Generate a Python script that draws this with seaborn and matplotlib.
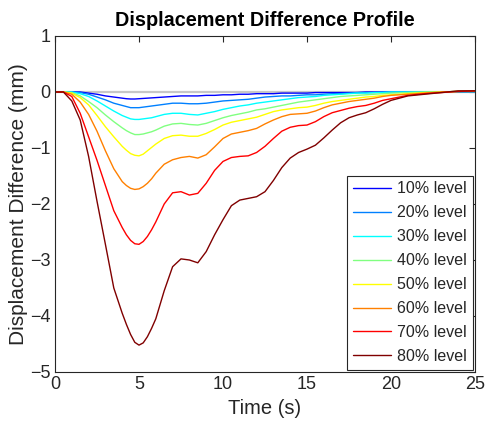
import numpy as np
import pandas as pd
import matplotlib
matplotlib.use("Agg")
import matplotlib.pyplot as plt
import seaborn as sns

# ---------------- data ----------------
time_s = [0, 0.5, 1, 1.5, 2, 2.5, 3, 3.5, 4, 4.25, 4.5, 4.75, 5, 5.25, 5.5, 5.75,
          6, 6.5, 7, 7.5, 8, 8.5,
          9, 9.5, 10, 10.5, 11, 11.5, 12, 12.5, 13, 13.5, 14, 14.5, 15, 15.5,
          16, 16.5, 17, 17.5, 18, 18.5, 19, 19.5, 20, 21, 22, 23, 24, 25]

level_10 = [0, 0, 0, 0, -0.02, -0.04, -0.07, -0.09, -0.11, -0.12, -0.125, -0.125,
            -0.12, -0.115, -0.11, -0.105,
            -0.1, -0.09, -0.08, -0.07, -0.07, -0.07, -0.06, -0.06, -0.05, -0.05,
            -0.04, -0.04, -0.03, -0.03, -0.03, -0.02, -0.02, -0.02, -0.02, -0.01,
            -0.01, -0.01, -0.01, -0.01, -0.01, 0, 0, 0, 0, 0, 0, 0, 0, 0]
level_20 = [0, 0, 0, -0.01, -0.04, -0.09, -0.14, -0.2, -0.24, -0.26, -0.28, -0.28,
            -0.28, -0.27, -0.26, -0.25,
            -0.24, -0.22, -0.2, -0.2, -0.21, -0.21, -0.2, -0.18, -0.16, -0.15,
            -0.14, -0.13, -0.11, -0.09, -0.08, -0.07, -0.07, -0.06, -0.05, -0.05,
            -0.04, -0.03, -0.03, -0.02, -0.01, -0.01, -0.01, 0, 0, 0, 0, 0, 0, 0]
level_30 = [0, 0, 0, -0.03, -0.08, -0.16, -0.25, -0.34, -0.42, -0.45, -0.48, -0.49,
            -0.49, -0.48, -0.47, -0.46,
            -0.44, -0.4, -0.38, -0.38, -0.4, -0.41, -0.38, -0.35, -0.31, -0.28,
            -0.25, -0.23, -0.2, -0.18, -0.16, -0.14, -0.12, -0.1, -0.09, -0.08,
            -0.06, -0.05, -0.04, -0.03, -0.02, -0.02, -0.01, -0.01, 0, 0, 0, 0,
            0.01, 0.01]
level_40 = [0, 0, -0.01, -0.07, -0.17, -0.28, -0.41, -0.53, -0.64, -0.69, -0.73,
            -0.76, -0.76, -0.75, -0.73, -0.71,
            -0.68, -0.61, -0.57, -0.56, -0.58, -0.59, -0.56, -0.51, -0.46,
            -0.42, -0.39, -0.36, -0.32, -0.3, -0.27, -0.24, -0.21, -0.18, -0.16,
            -0.14, -0.12, -0.1, -0.08, -0.07, -0.06, -0.05, -0.04, -0.03, -0.02,
            -0.01, 0, 0, 0.01, 0.01]
level_50 = [0, 0, -0.02, -0.1, -0.23, -0.42, -0.62, -0.8, -0.97, -1.04, -1.1,
            -1.13, -1.14, -1.11, -1.05, -0.99,
            -0.93, -0.83, -0.78, -0.77, -0.79, -0.79, -0.74, -0.67, -0.59,
            -0.54, -0.51, -0.48, -0.45, -0.4, -0.35, -0.32, -0.3, -0.28, -0.27,
            -0.24, -0.2, -0.17, -0.15, -0.13, -0.11, -0.09, -0.08, -0.06, -0.05,
            -0.03, -0.01, 0, 0.01, 0.01]
level_60 = [0, 0, -0.04, -0.18, -0.4, -0.7, -1.05, -1.37, -1.6, -1.67, -1.72,
            -1.74, -1.73, -1.69, -1.63, -1.55,
            -1.45, -1.29, -1.21, -1.17, -1.15, -1.18, -1.12, -0.98, -0.83,
            -0.75, -0.72, -0.69, -0.65, -0.57, -0.5, -0.44, -0.4, -0.39, -0.38,
            -0.34, -0.28, -0.23, -0.2, -0.17, -0.15, -0.13, -0.11, -0.08, -0.06,
            -0.04, -0.02, 0, 0.01, 0.02]
level_70 = [0, 0, -0.08, -0.38, -0.8, -1.22, -1.67, -2.12, -2.42, -2.55, -2.65,
            -2.71, -2.72, -2.67, -2.58, -2.46,
            -2.32, -2.0, -1.8, -1.78, -1.84, -1.81, -1.63, -1.4, -1.24,
            -1.17, -1.15, -1.14, -1.08, -0.97, -0.83, -0.7, -0.63, -0.6, -0.59,
            -0.53, -0.44, -0.37, -0.33, -0.29, -0.26, -0.24, -0.2, -0.15, -0.12,
            -0.06, -0.03, -0.01, 0.01, 0.02]
level_80 = [0, 0, -0.16, -0.5, -1.15, -1.95, -2.72, -3.5, -3.95, -4.15, -4.33,
            -4.47, -4.52, -4.48, -4.37, -4.22,
            -4.05, -3.55, -3.12, -2.98, -3.0, -3.05, -2.85, -2.55, -2.28,
            -2.03, -1.93, -1.9, -1.87, -1.78, -1.58, -1.35, -1.18, -1.08, -1.02,
            -0.95, -0.82, -0.68, -0.55, -0.46, -0.41, -0.37, -0.3, -0.22, -0.15,
            -0.07, -0.04, -0.01, 0.02, 0.02]
baseline = [0] * len(time_s)

level_labels = ["10% level", "20% level", "30% level", "40% level",
                "50% level", "60% level", "70% level", "80% level"]
level_values = [level_10, level_20, level_30, level_40,
                level_50, level_60, level_70, level_80]
level_colors = [(0, 0, 1), (0, 0.5, 1), (0, 1, 1), (0.5, 1, 0.5),
                (1, 1, 0), (1, 0.5, 0), (1, 0, 0), (0.5, 0, 0)]

x_ticks = [0, 5, 10, 15, 20, 25]
y_ticks = [1, 0, -1, -2, -3, -4, -5]

for v in level_values:
    assert len(v) == len(time_s), len(v)

# ---------------- figure ----------------
sns.set_theme(style="white")
plt.rcParams["font.family"] = ["Liberation Sans", "DejaVu Sans"]
plt.rcParams["xtick.direction"] = "in"
plt.rcParams["ytick.direction"] = "in"

fig = plt.figure(figsize=(4.88, 4.34), dpi=100)
ax = fig.add_axes([55 / 488, 1 - 372 / 434, 420 / 488, 336 / 434])

rows = []
for lab, vals in zip(level_labels, level_values):
    for t, v in zip(time_s, vals):
        rows.append({"Time": t, "Disp": v, "Level": lab})
df = pd.DataFrame(rows)

df0 = pd.DataFrame({"Time": time_s, "Disp": baseline})
sns.lineplot(data=df0, x="Time", y="Disp", color=(0.78, 0.78, 0.78),
             linewidth=1.6, ax=ax, legend=False)

sns.lineplot(data=df, x="Time", y="Disp", hue="Level", hue_order=level_labels,
             palette=level_colors, estimator=None, sort=False,
             linewidth=1.0, ax=ax)

ax.set_xlim(0, 25)
ax.set_ylim(-5, 1)
ax.set_xticks(x_ticks)
ax.set_yticks(y_ticks)
ax.tick_params(axis="both", which="both", direction="in", length=4.5,
               width=0.8, colors=(0.15, 0.15, 0.15), labelsize=13,
               top=True, right=True, labeltop=False, labelright=False, pad=3)
for sp in ax.spines.values():
    sp.set_visible(True)
    sp.set_color((0.15, 0.15, 0.15))
    sp.set_linewidth(0.8)

ax.set_xlabel("Time (s)", fontsize=14.5, color=(0.15, 0.15, 0.15), labelpad=4)
ax.set_ylabel("Displacement Difference (mm)", fontsize=15,
              color=(0.15, 0.15, 0.15), labelpad=2)
ax.set_title("Displacement Difference Profile", fontsize=14.3,
             fontweight="bold", color="black", pad=7)

leg = ax.legend(loc="lower right", bbox_to_anchor=(1.0, 0.0), fontsize=11.5,
                frameon=True, fancybox=False, framealpha=1, edgecolor=(0.15, 0.15, 0.15),
                handlelength=2.4, handletextpad=0.4, labelspacing=0.56,
                borderpad=0.35, borderaxespad=0.15, title=None)
leg.get_frame().set_linewidth(0.8)
for line in leg.get_lines():
    line.set_linewidth(1.0)

fig.savefig("out.png", dpi=100)
